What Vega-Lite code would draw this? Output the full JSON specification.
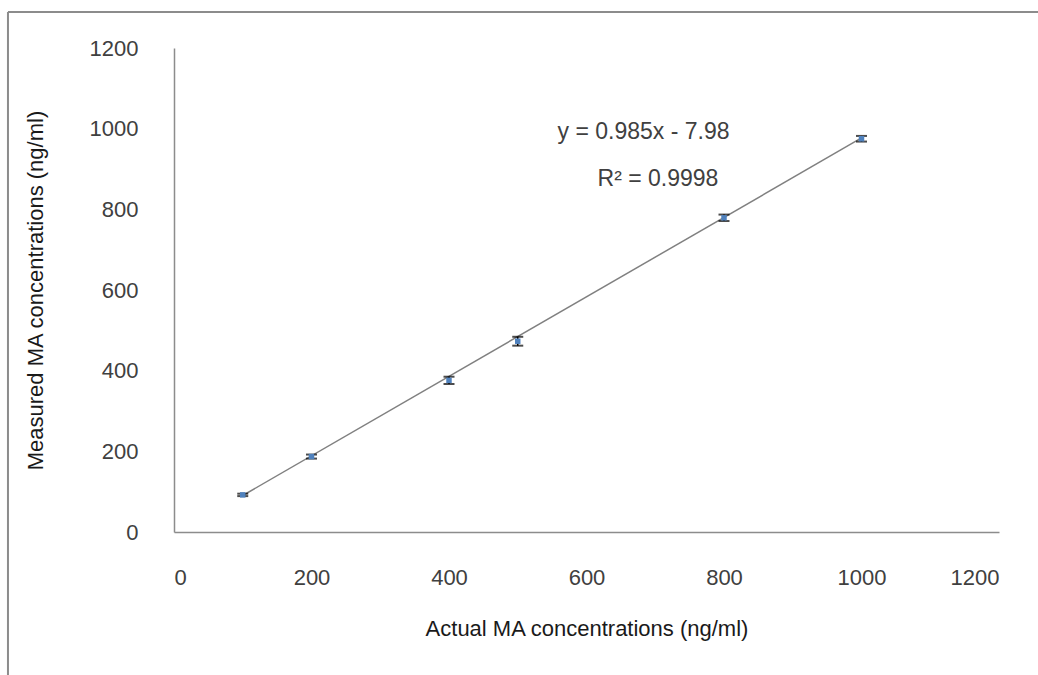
{
  "$schema": "https://vega.github.io/schema/vega-lite/v6.json",
  "width": 825,
  "height": 484,
  "autosize": "none",
  "padding": {"left": 174, "top": 48, "right": 39, "bottom": 143},
  "background": "white",
  "config": {
    "view": {"stroke": null},
    "axis": {
      "domainColor": "#8c8c8c",
      "domainWidth": 1.5,
      "ticks": false,
      "grid": false,
      "labelFont": "Liberation Sans",
      "labelFontSize": 22,
      "labelColor": "#404040",
      "titleFont": "Liberation Sans",
      "titleFontSize": 22,
      "titleFontWeight": "normal",
      "titleColor": "#1a1a1a"
    }
  },
  "data": {
    "values": [
      {"kind": "frame", "x": -241.5, "y": 1289, "x2": 1300, "y2": 1289},
      {"kind": "frame", "x": -241.5, "y": 1289, "x2": -241.5, "y2": -400},
      {"kind": "trend", "x": 100, "y": 90.5, "x2": 1000, "y2": 977},
      {"kind": "pt", "x": 100, "y": 92, "lo": 89, "hi": 95},
      {"kind": "pt", "x": 200, "y": 187, "lo": 182, "hi": 192},
      {"kind": "pt", "x": 400, "y": 376, "lo": 367, "hi": 385},
      {"kind": "pt", "x": 500, "y": 473, "lo": 462, "hi": 484},
      {"kind": "pt", "x": 800, "y": 779, "lo": 771, "hi": 787},
      {"kind": "pt", "x": 1000, "y": 975, "lo": 968, "hi": 982},
      {"kind": "txt", "x": 683, "y": 992, "label": "y = 0.985x - 7.98"},
      {"kind": "txt", "x": 704, "y": 874, "label": "R² = 0.9998"}
    ]
  },
  "encoding": {
    "x": {
      "field": "x",
      "type": "quantitative",
      "scale": {"domain": [0, 1200], "nice": false, "zero": false},
      "axis": {"values": [0, 200, 400, 600, 800, 1000, 1200], "format": "d", "labelPadding": 35, "titlePadding": 30, "title": "Actual MA concentrations (ng/ml)"}
    },
    "y": {
      "field": "y",
      "type": "quantitative",
      "scale": {"domain": [0, 1200], "nice": false, "zero": false},
      "axis": {"values": [0, 200, 400, 600, 800, 1000, 1200], "format": "d", "labelPadding": 36, "titlePadding": 42, "title": "Measured MA concentrations (ng/ml)"}
    }
  },
  "layer": [
    {
      "transform": [{"filter": "datum.kind === 'frame'"}],
      "mark": {"type": "rule", "color": "#8c8c8c", "strokeWidth": 2},
      "encoding": {"x2": {"field": "x2"}, "y2": {"field": "y2"}}
    },
    {
      "transform": [{"filter": "datum.kind === 'trend'"}],
      "mark": {"type": "rule", "color": "#808080", "strokeWidth": 1.5},
      "encoding": {"x2": {"field": "x2"}, "y2": {"field": "y2"}}
    },
    {
      "transform": [{"filter": "datum.kind === 'pt'"}],
      "mark": {"type": "rule", "color": "black", "strokeWidth": 1.5},
      "encoding": {"y": {"field": "lo", "type": "quantitative"}, "y2": {"field": "hi"}}
    },
    {
      "transform": [{"filter": "datum.kind === 'pt'"}],
      "mark": {"type": "tick", "orient": "horizontal", "size": 11, "thickness": 2, "color": "black"},
      "encoding": {"y": {"field": "lo", "type": "quantitative"}}
    },
    {
      "transform": [{"filter": "datum.kind === 'pt'"}],
      "mark": {"type": "tick", "orient": "horizontal", "size": 11, "thickness": 2, "color": "black"},
      "encoding": {"y": {"field": "hi", "type": "quantitative"}}
    },
    {
      "transform": [{"filter": "datum.kind === 'pt'"}],
      "mark": {"type": "point", "shape": "square", "filled": true, "size": 30, "color": "#4f81bd", "opacity": 1}
    },
    {
      "transform": [{"filter": "datum.kind === 'txt'"}],
      "mark": {"type": "text", "font": "Liberation Sans", "fontSize": 23, "color": "#404040", "align": "center", "baseline": "middle"},
      "encoding": {"text": {"field": "label"}}
    }
  ]
}
